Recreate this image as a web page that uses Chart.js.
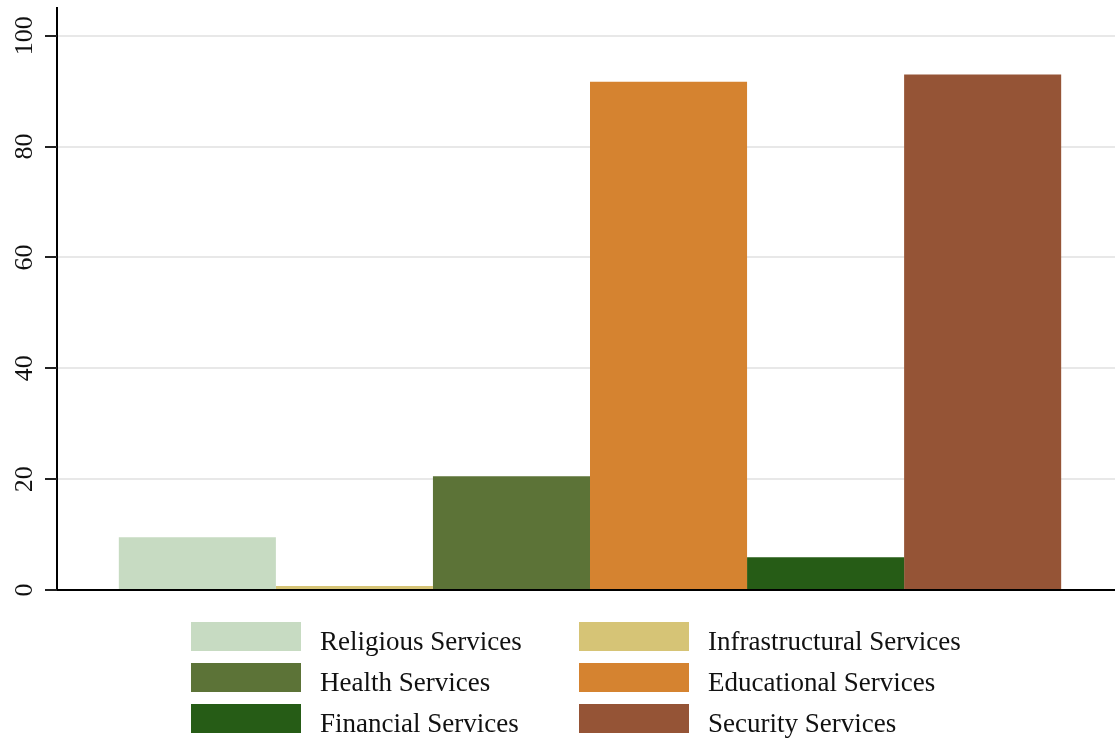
<!DOCTYPE html>
<html>
<head>
<meta charset="utf-8">
<script src="https://cdn.jsdelivr.net/npm/chart.js@4/dist/chart.umd.min.js"></script>
<style>
  html, body { margin: 0; padding: 0; background: #fff; overflow: hidden; }
  #wrap { width: 1123px; height: 740px; position: relative; }
</style>
</head>
<body>
<div id="wrap"><canvas id="chart"></canvas></div>
<script>
// data
const categories = [''];
const seriesNames = ['Religious Services', 'Infrastructural Services', 'Health Services',
                     'Educational Services', 'Financial Services', 'Security Services'];
const seriesValues = [9.5, 0.7, 20.5, 91.7, 5.9, 93.0];
const yTicks = [0, 20, 40, 60, 80, 100];

const colors = ['#c7dbc2', '#d6c476', '#5c7337', '#d58330', '#265c16', '#955436'];
const serif = '"Liberation Serif", "DejaVu Serif", serif';

// tick marks, rotated y tick labels + two-column legend with big boxes
const extras = {
    id: 'extras',
    afterDraw(chart) {
        const ctx = chart.ctx;
        const y = chart.scales.y;
        const left = chart.chartArea.left;
        ctx.save();
        ctx.strokeStyle = '#222';
        ctx.lineWidth = 2;
        yTicks.forEach(v => {
            const py = Math.round(y.getPixelForValue(v));
            ctx.beginPath();
            ctx.moveTo(left - 12, py);
            ctx.lineTo(left, py);
            ctx.stroke();
        });

        ctx.fillStyle = '#111';
        ctx.font = '26px ' + serif;
        ctx.textAlign = 'center';
        ctx.textBaseline = 'alphabetic';
        yTicks.forEach(v => {
            ctx.save();
            ctx.translate(32, y.getPixelForValue(v));
            ctx.rotate(-Math.PI / 2);
            ctx.fillText(String(v), 0, 0);
            ctx.restore();
        });

        ctx.font = '27px ' + serif;
        ctx.textAlign = 'left';
        seriesNames.forEach((name, i) => {
            const col = i % 2;
            const row = Math.floor(i / 2);
            const bx = col === 0 ? 191 : 579;
            const by = 622 + row * 41;
            ctx.fillStyle = colors[i];
            ctx.fillRect(bx, by, 110, 29);
            ctx.fillStyle = '#111';
            ctx.fillText(name, bx + 129, by + 28);
        });
        ctx.restore();
    }
};

const ctx = document.getElementById('chart').getContext('2d');
const chart = new Chart(ctx, {
    type: 'bar',
    data: {
        labels: categories,
        datasets: seriesNames.map((name, i) => ({
            label: name,
            data: [seriesValues[i]],
            backgroundColor: colors[i],
            borderWidth: 0,
            categoryPercentage: 0.884,
            barPercentage: 1
        }))
    },
    options: {
        responsive: true,
        maintainAspectRatio: false,
        animation: false,
        layout: { padding: { top: 8, bottom: 150, left: 0, right: 0 } },
        plugins: {
            legend: { display: false },
            tooltip: { enabled: false }
        },
        scales: {
            x: {
                grid: { display: false },
                ticks: { display: false },
                border: { display: true, color: '#000', width: 2 },
                afterFit(scale) { scale.height = 0; }
            },
            y: {
                min: 0,
                max: 105,
                afterBuildTicks(scale) {
                    scale.ticks = yTicks.map(v => ({ value: v }));
                },
                afterFit(scale) { scale.width = 57; },
                grid: {
                    color: '#e8e8e8',
                    lineWidth: 2,
                    drawTicks: false
                },
                border: { display: true, color: '#000', width: 2 },
                ticks: { display: false }
            }
        }
    },
    plugins: [extras]
});
</script>
</body>
</html>
